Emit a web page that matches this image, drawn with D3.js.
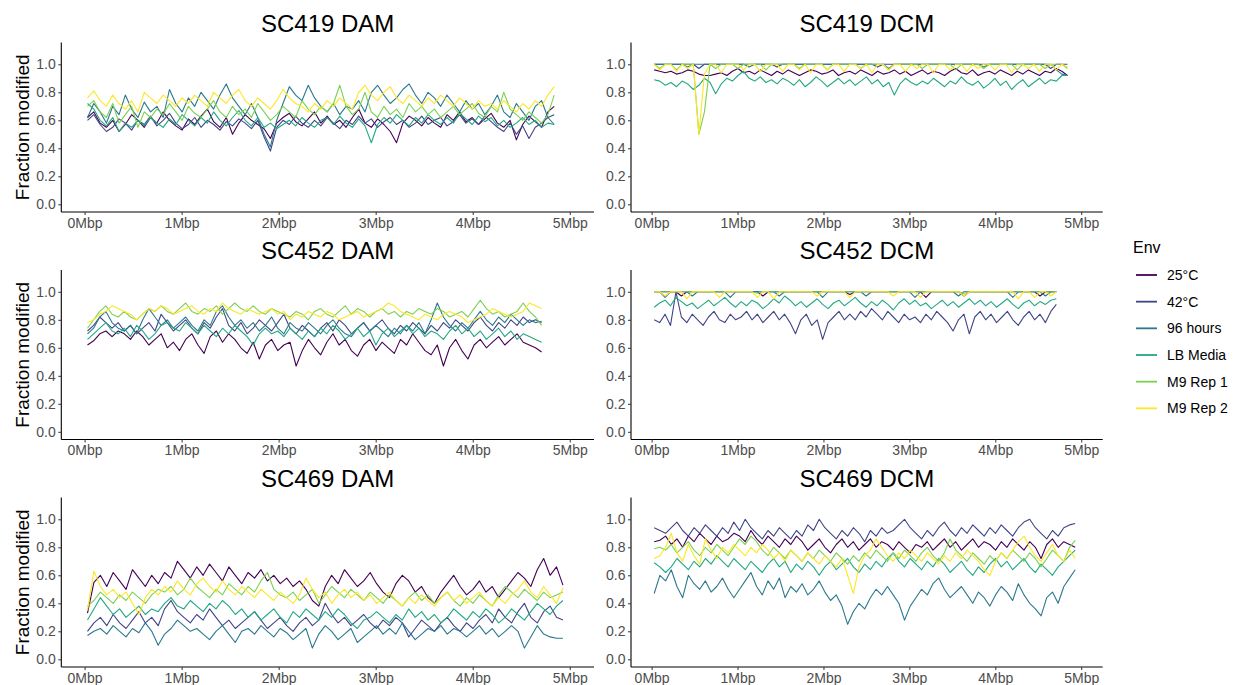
<!DOCTYPE html>
<html><head><meta charset="utf-8">
<script src="https://cdn.jsdelivr.net/npm/d3@7"></script>
<style>body{margin:0;background:#fff;} svg{display:block;font-family:"Liberation Sans",Arial,sans-serif;}</style>
</head><body><svg id="chart" width="1234" height="685"></svg>
<script>
// ---------- categories / labels ----------
const envs = ["25°C","42°C","96 hours","LB Media","M9 Rep 1","M9 Rep 2"];
const envColors = ["#440154","#414487","#2A788E","#22A884","#7AD151","#FDE725"];
const strains = ["SC419","SC452","SC469"];
const motifs = ["DAM","DCM"];
const windowFirstMbp = [0.03,0.03,0.03];
const windowLastMbp = [4.84,4.71,4.93];
const xTicks = [0,1,2,3,4,5];
const xTickLabels = ["0Mbp","1Mbp","2Mbp","3Mbp","4Mbp","5Mbp"];
const yTicks = [0,0.2,0.4,0.6,0.8,1.0];

// ---------- SC419 DAM ----------
const sc419DAM_25C = [0.62,0.66,0.58,0.55,0.60,0.52,0.57,0.64,0.60,0.55,0.62,0.58,0.66,0.60,0.56,0.53,0.61,0.57,0.63,0.68,0.59,0.55,0.62,0.50,0.58,0.64,0.60,0.57,0.54,0.47,0.58,0.62,0.65,0.59,0.56,0.61,0.66,0.58,0.63,0.57,0.60,0.55,0.62,0.68,0.58,0.55,0.61,0.57,0.52,0.44,0.58,0.63,0.60,0.56,0.62,0.58,0.55,0.64,0.60,0.66,0.59,0.62,0.57,0.61,0.65,0.58,0.55,0.60,0.46,0.57,0.63,0.59,0.55,0.66,0.70];
const sc419DAM_42C = [0.60,0.64,0.57,0.52,0.55,0.61,0.58,0.53,0.60,0.57,0.63,0.56,0.60,0.65,0.58,0.54,0.57,0.62,0.55,0.60,0.57,0.53,0.59,0.56,0.61,0.58,0.54,0.60,0.48,0.38,0.55,0.60,0.57,0.63,0.58,0.55,0.60,0.56,0.62,0.58,0.54,0.60,0.57,0.63,0.58,0.61,0.55,0.59,0.62,0.57,0.60,0.55,0.58,0.63,0.57,0.60,0.62,0.56,0.59,0.64,0.58,0.61,0.57,0.63,0.59,0.55,0.52,0.58,0.50,0.56,0.47,0.55,0.58,0.62,0.64];
const sc419DAM_96h = [0.62,0.72,0.66,0.58,0.70,0.64,0.78,0.68,0.62,0.73,0.66,0.70,0.62,0.82,0.72,0.66,0.76,0.70,0.80,0.74,0.68,0.78,0.86,0.76,0.70,0.64,0.72,0.62,0.50,0.41,0.60,0.72,0.84,0.78,0.74,0.85,0.76,0.70,0.66,0.72,0.64,0.70,0.68,0.74,0.66,0.80,0.85,0.78,0.72,0.76,0.82,0.86,0.78,0.72,0.80,0.76,0.70,0.78,0.72,0.66,0.74,0.68,0.72,0.64,0.70,0.78,0.66,0.62,0.72,0.66,0.60,0.70,0.74,0.62,0.57];
const sc419DAM_LB = [0.72,0.68,0.60,0.56,0.62,0.52,0.58,0.55,0.60,0.56,0.62,0.58,0.55,0.61,0.57,0.64,0.60,0.56,0.62,0.58,0.66,0.60,0.56,0.62,0.67,0.60,0.56,0.62,0.55,0.58,0.54,0.57,0.60,0.56,0.62,0.58,0.55,0.60,0.62,0.57,0.63,0.58,0.55,0.61,0.56,0.44,0.57,0.62,0.58,0.64,0.60,0.56,0.62,0.58,0.64,0.60,0.57,0.62,0.58,0.65,0.61,0.57,0.63,0.59,0.62,0.56,0.60,0.55,0.58,0.62,0.57,0.60,0.55,0.58,0.57];
const sc419DAM_M9R1 = [0.70,0.74,0.66,0.62,0.72,0.58,0.64,0.70,0.55,0.66,0.62,0.68,0.64,0.72,0.66,0.60,0.70,0.65,0.62,0.68,0.74,0.66,0.62,0.70,0.64,0.68,0.62,0.72,0.66,0.60,0.64,0.70,0.66,0.62,0.74,0.68,0.64,0.70,0.66,0.72,0.85,0.70,0.64,0.68,0.80,0.66,0.62,0.70,0.64,0.68,0.62,0.72,0.66,0.70,0.64,0.68,0.62,0.66,0.70,0.64,0.68,0.72,0.65,0.62,0.70,0.66,0.80,0.68,0.64,0.60,0.66,0.62,0.58,0.64,0.78];
const sc419DAM_M9R2 = [0.76,0.81,0.74,0.70,0.78,0.72,0.68,0.74,0.66,0.80,0.76,0.72,0.78,0.74,0.70,0.76,0.72,0.78,0.74,0.70,0.80,0.76,0.72,0.78,0.82,0.74,0.70,0.76,0.72,0.68,0.74,0.82,0.76,0.72,0.70,0.66,0.72,0.68,0.74,0.70,0.76,0.72,0.68,0.80,0.85,0.78,0.74,0.80,0.84,0.76,0.72,0.78,0.74,0.70,0.76,0.72,0.78,0.74,0.70,0.76,0.72,0.68,0.74,0.70,0.72,0.68,0.74,0.70,0.66,0.72,0.68,0.74,0.70,0.78,0.84];

// ---------- SC419 DCM ----------
const sc419DCM_25C = [0.96,0.95,0.94,0.95,0.93,0.94,0.96,0.95,0.93,0.92,0.92,0.93,0.94,0.92,0.95,0.97,0.94,0.95,0.93,0.96,0.94,0.92,0.95,0.93,0.96,0.94,0.92,0.94,0.96,0.95,0.93,0.94,0.96,0.92,0.94,0.95,0.93,0.96,0.94,0.92,0.95,0.93,0.94,0.96,0.93,0.95,0.92,0.94,0.96,0.93,0.95,0.94,0.92,0.95,0.97,0.94,0.93,0.96,0.92,0.94,0.95,0.93,0.96,0.94,0.92,0.95,0.93,0.96,0.94,0.92,0.95,0.94,0.97,0.95,0.92];
const sc419DCM_42C = [1,1,1,1,1,1,1,1,0.97,1,1,1,1,1,1,1,1,1,1,1,1,1,0.98,1,1,1,1,1,1,1,1,1,1,1,1,1,1,1,1,1,0.98,1,1,1,1,1,1,1,1,1,1,1,1,1,1,1,1,1,1,1,1,1,1,1,1,1,1,1,1,1,1,0.97,1,1,1];
const sc419DCM_96h = [1,1,1,1,1,1,0.98,1,1,1,1,1,1,1,1,1,1,0.98,1,1,1,1,1,1,1,1,1,1,1,1,1,1,1,1,1,1,1,1,1,1,1,1,0.97,1,1,1,1,1,1,1,1,1,1,1,1,1,1,1,1,0.98,1,1,1,1,1,1,1,1,1,1,1,1,0.96,0.93,0.92];
const sc419DCM_LB = [0.89,0.88,0.85,0.87,0.84,0.88,0.86,0.82,0.85,0.90,0.87,0.79,0.86,0.90,0.88,0.92,0.95,0.90,0.88,0.91,0.87,0.89,0.86,0.90,0.88,0.85,0.89,0.84,0.87,0.91,0.88,0.84,0.87,0.90,0.86,0.89,0.85,0.88,0.91,0.86,0.89,0.84,0.87,0.78,0.86,0.90,0.87,0.85,0.88,0.86,0.90,0.87,0.84,0.88,0.86,0.91,0.87,0.85,0.88,0.83,0.86,0.90,0.85,0.88,0.82,0.86,0.89,0.84,0.87,0.90,0.86,0.89,0.88,0.92,0.92];
const sc419DCM_M9R1 = [1,0.97,1,1,0.96,1,1,1,0.50,0.66,1,0.97,1,1,1,0.97,1,1,1,1,0.96,1,1,1,1,1,0.97,1,1,1,1,0.96,1,1,1,1,1,0.97,1,1,1,1,0.96,1,1,1,1,1,0.97,1,1,1,1,1,0.96,1,1,1,1,0.97,1,1,1,1,1,0.96,1,1,1,1,0.97,1,1,1,0.97];
const sc419DCM_M9R2 = [1,0.96,1,1,0.95,1,0.97,1,0.50,0.93,1,1,0.94,1,1,1,0.96,1,1,0.95,1,1,1,0.95,1,1,0.96,1,0.94,1,1,0.96,1,1,0.95,1,1,0.97,1,0.94,1,1,0.96,1,1,0.95,1,0.97,1,1,0.94,1,1,0.96,1,1,0.95,1,0.97,1,1,0.96,1,1,0.94,1,1,0.97,1,0.95,1,1,0.96,1,0.98];

// ---------- SC452 DAM ----------
const sc452DAM_25C = [0.62,0.65,0.70,0.72,0.68,0.72,0.70,0.66,0.72,0.68,0.62,0.66,0.70,0.60,0.64,0.58,0.66,0.70,0.62,0.56,0.68,0.72,0.64,0.70,0.66,0.60,0.56,0.64,0.52,0.62,0.66,0.58,0.62,0.64,0.47,0.58,0.66,0.60,0.55,0.64,0.70,0.62,0.66,0.58,0.54,0.62,0.66,0.58,0.64,0.60,0.56,0.66,0.62,0.70,0.64,0.58,0.55,0.62,0.47,0.60,0.66,0.58,0.52,0.62,0.66,0.60,0.64,0.68,0.62,0.66,0.70,0.64,0.62,0.60,0.57];
const sc452DAM_42C = [0.72,0.76,0.82,0.78,0.74,0.78,0.72,0.76,0.70,0.74,0.78,0.72,0.84,0.78,0.72,0.76,0.80,0.74,0.70,0.78,0.74,0.82,0.88,0.76,0.72,0.78,0.70,0.74,0.80,0.76,0.72,0.78,0.84,0.74,0.70,0.76,0.72,0.68,0.74,0.78,0.72,0.80,0.76,0.70,0.74,0.78,0.72,0.76,0.80,0.74,0.70,0.76,0.72,0.78,0.74,0.70,0.76,0.72,0.78,0.74,0.80,0.76,0.72,0.78,0.82,0.76,0.72,0.78,0.74,0.80,0.76,0.82,0.78,0.80,0.78];
const sc452DAM_96h = [0.70,0.74,0.82,0.86,0.78,0.74,0.72,0.76,0.70,0.80,0.88,0.82,0.76,0.80,0.74,0.78,0.82,0.76,0.72,0.80,0.76,0.86,0.90,0.82,0.76,0.80,0.74,0.78,0.72,0.76,0.82,0.74,0.70,0.78,0.74,0.72,0.78,0.74,0.70,0.76,0.80,0.74,0.70,0.68,0.74,0.78,0.72,0.76,0.72,0.68,0.74,0.70,0.76,0.72,0.78,0.70,0.80,0.92,0.82,0.76,0.72,0.78,0.74,0.80,0.86,0.80,0.76,0.82,0.78,0.84,0.80,0.76,0.80,0.78,0.79];
const sc452DAM_LB = [0.66,0.70,0.74,0.78,0.72,0.70,0.74,0.68,0.76,0.72,0.66,0.70,0.76,0.78,0.74,0.72,0.78,0.74,0.70,0.76,0.72,0.68,0.74,0.70,0.76,0.72,0.68,0.62,0.70,0.74,0.70,0.72,0.68,0.74,0.70,0.66,0.72,0.68,0.74,0.70,0.76,0.72,0.66,0.70,0.74,0.68,0.72,0.62,0.70,0.74,0.68,0.72,0.76,0.70,0.74,0.68,0.72,0.70,0.66,0.72,0.76,0.70,0.74,0.68,0.72,0.66,0.70,0.74,0.68,0.72,0.66,0.70,0.68,0.66,0.64];
const sc452DAM_M9R1 = [0.74,0.80,0.86,0.90,0.84,0.82,0.86,0.82,0.80,0.84,0.88,0.86,0.90,0.86,0.84,0.88,0.92,0.86,0.84,0.88,0.86,0.90,0.84,0.88,0.92,0.88,0.86,0.90,0.86,0.84,0.88,0.86,0.84,0.82,0.86,0.84,0.80,0.86,0.88,0.84,0.82,0.86,0.90,0.84,0.88,0.86,0.82,0.86,0.88,0.84,0.86,0.82,0.86,0.84,0.88,0.86,0.84,0.88,0.86,0.82,0.84,0.86,0.82,0.88,0.94,0.88,0.84,0.86,0.82,0.84,0.86,0.92,0.86,0.82,0.76];
const sc452DAM_M9R2 = [0.78,0.80,0.84,0.86,0.90,0.88,0.86,0.84,0.80,0.84,0.88,0.86,0.90,0.88,0.84,0.86,0.88,0.90,0.86,0.84,0.88,0.86,0.92,0.88,0.86,0.84,0.88,0.86,0.84,0.86,0.88,0.84,0.86,0.80,0.84,0.82,0.86,0.84,0.82,0.86,0.84,0.80,0.82,0.84,0.86,0.82,0.84,0.86,0.88,0.92,0.90,0.86,0.84,0.82,0.80,0.84,0.82,0.80,0.84,0.86,0.84,0.82,0.78,0.80,0.82,0.84,0.88,0.86,0.84,0.82,0.84,0.86,0.92,0.90,0.88];

// ---------- SC452 DCM ----------
const sc452DCM_25C = [1,1,1,1,1,0.97,1,1,1,1,1,1,1,1,1,1,1,1,1,1,0.97,1,1,1,1,1,1,1,1,1,1,1,1,1,1,1,0.98,1,1,1,1,1,1,1,1,1,1,1,1,1,0.96,1,1,1,1,1,1,0.97,1,1,1,1,1,1,1,1,1,1,1,1,1,0.97,1,1,1];
const sc452DCM_42C = [0.80,0.78,0.84,0.76,1.00,0.82,0.78,0.84,0.80,0.76,0.82,0.86,0.80,0.78,0.84,0.80,0.82,0.86,0.80,0.84,0.78,0.82,0.86,0.80,0.84,0.78,0.70,0.80,0.84,0.76,0.80,0.66,0.78,0.82,0.86,0.80,0.84,0.80,0.86,0.82,0.88,0.84,0.80,0.86,0.82,0.78,0.84,0.80,0.82,0.78,0.84,0.80,0.86,0.82,0.78,0.72,0.80,0.84,0.70,0.82,0.86,0.80,0.84,0.78,0.82,0.86,0.80,0.76,0.82,0.86,0.80,0.84,0.78,0.86,0.91];
const sc452DCM_96h = [1,1,0.96,1,1,1,1,0.97,1,1,1,1,1,1,0.96,1,1,1,1,1,1,1,1,0.97,1,1,1,1,1,1,1,0.96,1,1,1,1,1,1,1,0.97,1,1,1,1,1,1,1,1,0.96,1,1,1,1,1,1,1,0.97,1,1,1,1,1,1,1,1,1,0.96,1,1,1,1,1,0.97,1,1];
const sc452DCM_LB = [0.89,0.92,0.94,0.90,0.96,0.93,0.90,0.92,0.88,0.91,0.94,0.90,0.93,0.96,0.92,0.89,0.93,0.90,0.94,0.92,0.88,0.91,0.95,0.92,0.97,0.94,0.90,0.93,0.89,0.92,0.95,0.91,0.88,0.92,0.94,0.90,0.93,0.96,0.92,0.89,0.93,0.90,0.94,0.91,0.87,0.92,0.95,0.91,0.94,0.90,0.92,0.88,0.91,0.94,0.90,0.93,0.89,0.92,0.95,0.91,0.94,0.90,0.93,0.89,0.92,0.95,0.91,0.88,0.92,0.94,0.90,0.93,0.91,0.94,0.95];
const sc452DCM_M9R1 = [1,1,1,1,1,1,1,1,1,1,1,1,1,1,1,1,1,1,1,0.99,1,1,1,1,1,1,1,1,1,1,1,1,1,1,1,1,1,1,1,1,1,1,1,1,1,1,1,1,1,1,1,1,1,1,1,1,1,0.99,1,1,1,1,1,1,1,1,1,1,1,1,1,1,1,1,1];
const sc452DCM_M9R2 = [1,1,0.97,1,1,1,0.95,1,1,1,1,1,0.96,1,1,1,1,1,1,0.96,1,1,0.95,1,1,1,1,1,1,1,0.97,1,1,1,1,1,0.96,1,1,1,1,1,1,1,0.97,1,1,1,1,0.96,1,1,1,1,1,1,1,0.97,1,1,1,1,1,1,1,1,1,0.95,1,1,0.96,1,1,0.97,1];

// ---------- SC469 DAM ----------
const sc469DAM_25C = [0.33,0.55,0.60,0.52,0.62,0.56,0.50,0.64,0.58,0.52,0.60,0.54,0.62,0.58,0.70,0.64,0.58,0.66,0.60,0.68,0.62,0.56,0.66,0.60,0.54,0.62,0.58,0.64,0.56,0.60,0.54,0.58,0.52,0.56,0.50,0.42,0.38,0.52,0.60,0.54,0.64,0.58,0.52,0.56,0.62,0.54,0.48,0.44,0.54,0.60,0.56,0.48,0.52,0.44,0.40,0.48,0.54,0.60,0.52,0.46,0.50,0.56,0.48,0.52,0.44,0.50,0.56,0.62,0.58,0.52,0.64,0.72,0.60,0.66,0.53];
const sc469DAM_42C = [0.20,0.26,0.30,0.24,0.32,0.26,0.22,0.28,0.34,0.26,0.30,0.24,0.36,0.42,0.34,0.30,0.26,0.32,0.28,0.36,0.30,0.24,0.28,0.22,0.26,0.30,0.34,0.28,0.22,0.26,0.30,0.24,0.20,0.26,0.30,0.24,0.28,0.40,0.32,0.26,0.30,0.24,0.28,0.32,0.26,0.22,0.28,0.24,0.30,0.26,0.16,0.22,0.28,0.24,0.20,0.26,0.30,0.24,0.20,0.26,0.22,0.28,0.32,0.26,0.36,0.30,0.26,0.34,0.40,0.30,0.26,0.34,0.38,0.30,0.28];
const sc469DAM_96h = [0.17,0.20,0.22,0.18,0.24,0.20,0.16,0.22,0.19,0.26,0.20,0.10,0.18,0.22,0.28,0.24,0.20,0.22,0.18,0.14,0.20,0.24,0.18,0.12,0.20,0.22,0.18,0.24,0.20,0.16,0.22,0.19,0.14,0.18,0.22,0.08,0.18,0.24,0.20,0.14,0.18,0.22,0.12,0.16,0.20,0.24,0.18,0.22,0.18,0.26,0.20,0.14,0.18,0.22,0.20,0.24,0.18,0.22,0.20,0.16,0.20,0.24,0.18,0.22,0.16,0.20,0.24,0.20,0.08,0.16,0.24,0.18,0.16,0.15,0.15];
const sc469DAM_LB = [0.28,0.36,0.44,0.38,0.32,0.36,0.30,0.34,0.38,0.32,0.36,0.34,0.40,0.44,0.38,0.36,0.42,0.38,0.34,0.40,0.36,0.42,0.38,0.32,0.36,0.30,0.34,0.28,0.32,0.36,0.30,0.26,0.34,0.30,0.36,0.32,0.28,0.34,0.30,0.36,0.32,0.26,0.22,0.28,0.30,0.34,0.30,0.26,0.32,0.28,0.36,0.30,0.34,0.28,0.32,0.26,0.30,0.36,0.32,0.28,0.34,0.30,0.36,0.32,0.26,0.30,0.36,0.32,0.28,0.34,0.40,0.36,0.32,0.38,0.42];
const sc469DAM_M9R1 = [0.38,0.42,0.48,0.44,0.40,0.46,0.42,0.48,0.44,0.40,0.46,0.50,0.48,0.52,0.46,0.50,0.58,0.52,0.48,0.44,0.50,0.46,0.54,0.50,0.46,0.52,0.48,0.56,0.62,0.50,0.46,0.44,0.48,0.42,0.46,0.50,0.40,0.46,0.52,0.48,0.44,0.50,0.46,0.42,0.48,0.44,0.40,0.46,0.42,0.38,0.44,0.48,0.42,0.46,0.40,0.44,0.48,0.42,0.38,0.44,0.40,0.46,0.42,0.38,0.46,0.52,0.48,0.44,0.50,0.46,0.42,0.48,0.44,0.46,0.48];
const sc469DAM_M9R2 = [0.35,0.63,0.52,0.46,0.50,0.44,0.48,0.40,0.32,0.44,0.50,0.46,0.52,0.48,0.56,0.50,0.46,0.54,0.58,0.52,0.48,0.56,0.50,0.46,0.52,0.48,0.44,0.50,0.46,0.42,0.48,0.44,0.40,0.46,0.58,0.50,0.44,0.48,0.40,0.46,0.50,0.44,0.48,0.42,0.46,0.40,0.44,0.48,0.42,0.38,0.44,0.40,0.46,0.42,0.38,0.44,0.48,0.42,0.46,0.40,0.44,0.48,0.42,0.38,0.44,0.40,0.46,0.50,0.56,0.48,0.44,0.52,0.46,0.40,0.51];

// ---------- SC469 DCM ----------
const sc469DCM_25C = [0.84,0.85,0.88,0.82,0.86,0.80,0.88,0.84,0.90,0.86,0.82,0.88,0.84,0.86,0.90,0.88,0.84,0.92,0.86,0.82,0.88,0.84,0.80,0.86,0.82,0.88,0.84,0.78,0.82,0.86,0.80,0.76,0.82,0.86,0.80,0.84,0.78,0.82,0.86,0.80,0.84,0.82,0.78,0.84,0.80,0.76,0.82,0.80,0.84,0.78,0.82,0.86,0.80,0.84,0.78,0.82,0.86,0.80,0.84,0.82,0.78,0.84,0.80,0.86,0.82,0.78,0.84,0.80,0.72,0.82,0.86,0.80,0.84,0.82,0.80];
const sc469DCM_42C = [0.94,0.92,0.90,0.94,0.98,0.92,0.88,0.94,0.90,0.96,0.92,0.88,0.94,0.90,0.98,0.92,1.00,0.94,0.90,0.86,0.92,0.88,0.94,0.90,0.86,0.92,0.88,0.96,0.92,1.00,0.94,0.90,0.86,0.92,0.88,0.94,0.90,0.84,0.92,0.88,0.94,0.90,0.92,0.96,1.00,0.94,0.90,0.86,0.92,0.88,0.94,0.98,0.92,0.88,0.94,0.90,0.96,0.92,0.88,0.94,0.90,0.96,0.92,0.88,0.94,0.98,1.00,0.94,0.90,0.86,0.92,0.88,0.94,0.96,0.97];
const sc469DCM_96h = [0.47,0.60,0.56,0.64,0.52,0.44,0.60,0.54,0.50,0.56,0.48,0.52,0.58,0.50,0.44,0.50,0.56,0.62,0.52,0.46,0.56,0.50,0.58,0.44,0.52,0.48,0.54,0.46,0.50,0.56,0.48,0.42,0.46,0.38,0.25,0.34,0.40,0.36,0.44,0.50,0.46,0.52,0.46,0.40,0.28,0.38,0.44,0.50,0.46,0.54,0.58,0.50,0.44,0.48,0.52,0.46,0.40,0.48,0.44,0.38,0.46,0.52,0.48,0.42,0.54,0.46,0.40,0.36,0.31,0.44,0.48,0.40,0.52,0.58,0.64];
const sc469DCM_LB = [0.69,0.66,0.62,0.66,0.72,0.68,0.64,0.70,0.66,0.72,0.68,0.74,0.70,0.66,0.72,0.68,0.64,0.70,0.66,0.62,0.68,0.72,0.66,0.70,0.62,0.68,0.64,0.70,0.66,0.60,0.66,0.70,0.64,0.68,0.72,0.66,0.62,0.68,0.64,0.70,0.66,0.72,0.76,0.70,0.66,0.72,0.68,0.64,0.70,0.66,0.72,0.68,0.62,0.66,0.70,0.64,0.60,0.66,0.62,0.68,0.72,0.66,0.70,0.64,0.68,0.72,0.66,0.62,0.68,0.64,0.60,0.66,0.70,0.74,0.78];
const sc469DCM_M9R1 = [0.79,0.80,0.78,0.82,0.76,0.80,0.84,0.78,0.74,0.80,0.76,0.82,0.78,0.74,0.80,0.86,0.82,0.88,0.84,0.78,0.74,0.80,0.76,0.72,0.78,0.74,0.70,0.76,0.72,0.78,0.74,0.70,0.76,0.72,0.68,0.74,0.70,0.76,0.72,0.78,0.74,0.70,0.76,0.72,0.78,0.74,0.70,0.76,0.80,0.74,0.70,0.76,0.86,0.78,0.74,0.70,0.76,0.72,0.68,0.74,0.70,0.76,0.72,0.78,0.74,0.70,0.76,0.72,0.66,0.72,0.78,0.74,0.70,0.80,0.85];
const sc469DCM_M9R2 = [0.72,0.74,0.80,0.90,0.76,0.70,0.82,0.74,0.68,0.86,0.78,0.72,0.80,0.76,0.82,0.78,0.74,0.80,0.76,0.82,0.78,0.72,0.76,0.70,0.78,0.74,0.70,0.76,0.72,0.68,0.74,0.70,0.66,0.72,0.60,0.47,0.66,0.74,0.78,0.86,0.80,0.74,0.70,0.76,0.72,0.78,0.74,0.70,0.76,0.72,0.68,0.74,0.70,0.76,0.72,0.78,0.74,0.70,0.64,0.60,0.70,0.76,0.72,0.78,0.84,0.88,0.80,0.74,0.70,0.76,0.82,0.74,0.70,0.78,0.72];

const panelSeries = [
  [[sc419DAM_25C,sc419DAM_42C,sc419DAM_96h,sc419DAM_LB,sc419DAM_M9R1,sc419DAM_M9R2],
   [sc419DCM_25C,sc419DCM_42C,sc419DCM_96h,sc419DCM_LB,sc419DCM_M9R1,sc419DCM_M9R2]],
  [[sc452DAM_25C,sc452DAM_42C,sc452DAM_96h,sc452DAM_LB,sc452DAM_M9R1,sc452DAM_M9R2],
   [sc452DCM_25C,sc452DCM_42C,sc452DCM_96h,sc452DCM_LB,sc452DCM_M9R1,sc452DCM_M9R2]],
  [[sc469DAM_25C,sc469DAM_42C,sc469DAM_96h,sc469DAM_LB,sc469DAM_M9R1,sc469DAM_M9R2],
   [sc469DCM_25C,sc469DCM_42C,sc469DCM_96h,sc469DCM_LB,sc469DCM_M9R1,sc469DCM_M9R2]]
];

// ---------- layout ----------
const svg = d3.select("#chart");
const colX = [[61.3,594],[631,1102.7]];
const rowTop = [42.6, 270.1, 497.6];
const panelH = 169.4;
const color = d3.scaleOrdinal().domain(envs).range(envColors);
const fmt = d3.format(".1f");

strains.forEach((strain, r) => {
  motifs.forEach((motif, c) => {
    const x = d3.scaleLinear().domain([-0.24, 5.25]).range(colX[c]);
    const y = d3.scaleLinear().domain([-0.055, 1.155]).range([rowTop[r] + panelH, rowTop[r]]);
    const g = svg.append("g");
    const idx = d3.scaleLinear().range([windowFirstMbp[r], windowLastMbp[r]]);

    // lines
    panelSeries[r][c].forEach((vals, k) => {
      idx.domain([0, vals.length - 1]);
      const line = d3.line().x((d, i) => x(idx(i))).y(d => y(d));
      g.append("path").attr("d", line(vals)).attr("fill", "none")
        .attr("stroke", color(envs[k])).attr("stroke-width", 1.1)
        .attr("stroke-linejoin", "round");
    });

    // axes
    const xAxis = d3.axisBottom(x).tickValues(xTicks).tickSize(3).tickPadding(3)
      .tickFormat((d, i) => xTickLabels[i]);
    const gx = g.append("g").attr("transform", `translate(0,${rowTop[r] + panelH})`).call(xAxis);
    const yAxis = d3.axisLeft(y).tickValues(yTicks).tickSize(3).tickPadding(2.5).tickFormat(fmt);
    const gy = g.append("g").attr("transform", `translate(${colX[c][0]},0)`).call(yAxis);
    [gx, gy].forEach(a => {
      a.select(".domain").attr("stroke", "#000").attr("stroke-width", 1.1);
      a.selectAll(".tick line").attr("stroke", "#333").attr("stroke-width", 1);
      a.selectAll(".tick text").attr("fill", "#4D4D4D").style("font-size", "14px")
        .style("font-family", '"Liberation Sans",Arial,sans-serif');
    });
    gx.select(".domain").attr("d", `M${colX[c][0]},0H${colX[c][1]}`);
    gy.select(".domain").attr("d", `M0,${rowTop[r] + panelH}V${rowTop[r]}`);

    // title
    g.append("text").attr("x", (colX[c][0] + colX[c][1]) / 2).attr("y", rowTop[r] - 10.8)
      .attr("text-anchor", "middle").style("font-size", "24px").attr("fill", "#000")
      .text(`${strain} ${motif}`);

    if (c === 0) {
      g.append("text").attr("transform", `translate(29,${rowTop[r] + panelH / 2}) rotate(-90)`)
        .attr("text-anchor", "middle").style("font-size", "19px").attr("fill", "#000")
        .text("Fraction modified");
    }
  });
});

// ---------- legend ----------
const lg = svg.append("g");
lg.append("text").attr("x", 1133).attr("y", 252.5).style("font-size", "16px").attr("fill", "#000").text("Env");
envs.forEach((e, i) => {
  const cy = 275 + 26.67 * i;
  lg.append("line").attr("x1", 1136).attr("x2", 1157).attr("y1", cy).attr("y2", cy)
    .attr("stroke", color(e)).attr("stroke-width", 1.8);
  lg.append("text").attr("x", 1167).attr("y", cy + 5).style("font-size", "14px").attr("fill", "#000").text(e);
});
</script></body></html>
